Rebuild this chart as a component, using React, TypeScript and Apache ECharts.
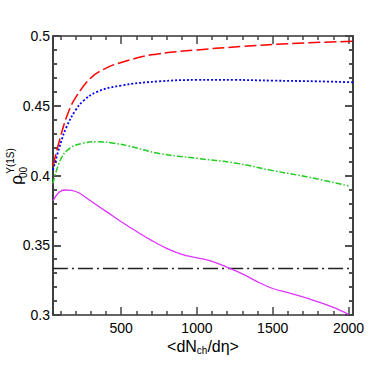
import React, { useEffect, useRef } from "react";
import * as echarts from "echarts";

// Data
const redX = [50, 100, 150, 200, 300, 400, 500, 700, 1000, 1300, 1600, 2030];
const redY = [0.407, 0.428, 0.445, 0.456, 0.47, 0.477, 0.481, 0.4865, 0.49, 0.4925, 0.4945, 0.4962];

const blueX = [50, 100, 140, 200, 250, 340, 500, 750, 1000, 1250, 1500, 1800, 2030];
const blueY = [0.404, 0.423, 0.435, 0.447, 0.4535, 0.46, 0.4645, 0.4675, 0.4685, 0.4685, 0.468, 0.4675, 0.4668];

const greenX = [50, 100, 160, 250, 350, 450, 550, 750, 1000, 1250, 1500, 1750, 2000];
const greenY = [0.3944, 0.4115, 0.4195, 0.4232, 0.4242, 0.4232, 0.4212, 0.4158, 0.4123, 0.409, 0.4035, 0.3985, 0.3925];

const magentaX = [50, 90, 130, 170, 220, 300, 400, 500, 600, 700, 800, 900, 1000, 1100, 1200, 1300, 1400, 1500, 1600, 1750, 1900, 2000];
const magentaY = [0.3819, 0.388, 0.3896, 0.3894, 0.3876, 0.3817, 0.3743, 0.3668, 0.36, 0.3535, 0.3478, 0.3435, 0.341, 0.3385, 0.3342, 0.3295, 0.3238, 0.319, 0.316, 0.3112, 0.3055, 0.3005];

const refX = [50, 2010];
const refY = [1 / 3, 1 / 3];

const xMajorTicks = [500, 1000, 1500, 2000];
const xMinorTicks = [100, 200, 300, 400, 600, 700, 800, 900, 1100, 1200, 1300, 1400, 1600, 1700, 1800, 1900];

const X_MIN = 50;
const X_MAX = 2030;
const Y_MIN = 0.3;
const Y_MAX = 0.5;

const FONT = "'Liberation Sans', Arial, Helvetica, sans-serif";

const zip = (xs: number[], ys: number[]) => xs.map((x, i) => [x, ys[i]]);

export default function App() {
  const ref = useRef<HTMLDivElement>(null);

  useEffect(() => {
    if (!ref.current) return;
    const chart = echarts.init(ref.current, null, { renderer: "svg" });

    const lineCol = "#333";
    const tickStyle = () => ({ color: "#444", width: 1.5 });

    const mkX = (gridIndex: number, position: string, ticks: number[], len: number, showLine: boolean, showLabel: boolean) => ({
      type: "value",
      gridIndex,
      position,
      min: X_MIN,
      max: X_MAX,
      axisLine: { show: showLine, lineStyle: { color: lineCol, width: 1.5 } },
      axisTick: { show: true, inside: true, length: len, customValues: ticks, lineStyle: tickStyle() },
      axisLabel: {
        show: showLabel,
        customValues: ticks,
        formatter: (v: number) => String(v),
        color: "#000",
        fontSize: 14,
        fontFamily: FONT,
        margin: 6,
      },
      splitLine: { show: false },
    });

    const mkY = (gridIndex: number, position: string, showLabel: boolean) => ({
      type: "value",
      gridIndex,
      position,
      min: Y_MIN,
      max: Y_MAX,
      interval: 0.05,
      axisLine: { show: true, lineStyle: { color: lineCol, width: 1.5 } },
      axisTick: { show: true, inside: true, length: 8, lineStyle: tickStyle() },
      minorTick: { show: true, splitNumber: 5, length: 4, lineStyle: tickStyle() },
      axisLabel: {
        show: showLabel,
        color: "#000",
        fontSize: 14,
        fontFamily: FONT,
        margin: 3,
      },
      splitLine: { show: false },
      minorSplitLine: { show: false },
    });

    const lineSeries = (name: string, data: number[][], color: string, type: any, width: number) => ({
      name,
      type: "line",
      xAxisIndex: 0,
      yAxisIndex: 0,
      data,
      showSymbol: false,
      smooth: 0.4,
      lineStyle: { color, width, type, cap: "butt" },
      clip: true,
    });

    const grid = { left: 53, right: 25, top: 36, bottom: 52, containLabel: false };

    chart.setOption({
      animation: false,
      backgroundColor: "#fff",
      grid: [grid, { ...grid }, { ...grid }, { ...grid }],
      xAxis: [
        mkX(0, "bottom", xMajorTicks, 8, true, true),
        mkX(1, "bottom", xMinorTicks, 4, false, false),
        mkX(2, "top", xMajorTicks, 8, true, false),
        mkX(3, "top", xMinorTicks, 4, false, false),
      ],
      yAxis: [mkY(0, "left", true), mkY(1, "right", false), mkY(2, "right", false), mkY(3, "left", false)],
      series: [
        lineSeries("ref", zip(refX, refY), "#222", [15, 4, 2, 4], 1.5),
        lineSeries("magenta", zip(magentaX, magentaY), "#dd33ff", "solid", 1.3),
        lineSeries("green", zip(greenX, greenY), "#22cc22", [6, 2, 1.5, 2], 1.5),
        lineSeries("blue", zip(blueX, blueY), "#0000ff", [2, 2], 1.8),
        lineSeries("red", zip(redX, redY), "#ff0000", [12, 4], 1.5),
        { type: "line", xAxisIndex: 1, yAxisIndex: 1, data: [], showSymbol: false },
        { type: "line", xAxisIndex: 2, yAxisIndex: 2, data: [], showSymbol: false },
        { type: "line", xAxisIndex: 3, yAxisIndex: 3, data: [], showSymbol: false },
      ],
      graphic: [
        {
          type: "text",
          x: 203,
          y: 346,
          style: {
            text: "{m|<dN}{s|ch}{m|/dη>}",
            align: "center",
            verticalAlign: "middle",
            fill: "#000",
            fontFamily: FONT,
            rich: {
              m: { fontSize: 16, fontFamily: FONT, fill: "#000", lineHeight: 20 },
              s: { fontSize: 10, fontFamily: FONT, fill: "#000", padding: [9, 0, 0, 0], lineHeight: 20 },
            },
          },
        },
        {
          type: "text",
          x: 16,
          y: 180,
          rotation: Math.PI / 2,
          style: { text: "ρ", fontSize: 17, fontFamily: FONT, fill: "#000", align: "center", verticalAlign: "middle" },
        },
        {
          type: "text",
          x: 23.5,
          y: 172.5,
          rotation: Math.PI / 2,
          style: { text: "00", fontSize: 10, fontFamily: FONT, fill: "#000", align: "center", verticalAlign: "middle" },
        },
        {
          type: "text",
          x: 10.5,
          y: 161,
          rotation: Math.PI / 2,
          style: { text: "Υ(1S)", fontSize: 10, fontFamily: FONT, fill: "#000", align: "center", verticalAlign: "middle" },
        },
      ],
    });

    return () => chart.dispose();
  }, []);

  return (
    <div
      ref={ref}
      style={{ position: "fixed", left: 0, top: 0, width: 378, height: 367, background: "#fff" }}
    />
  );
}
